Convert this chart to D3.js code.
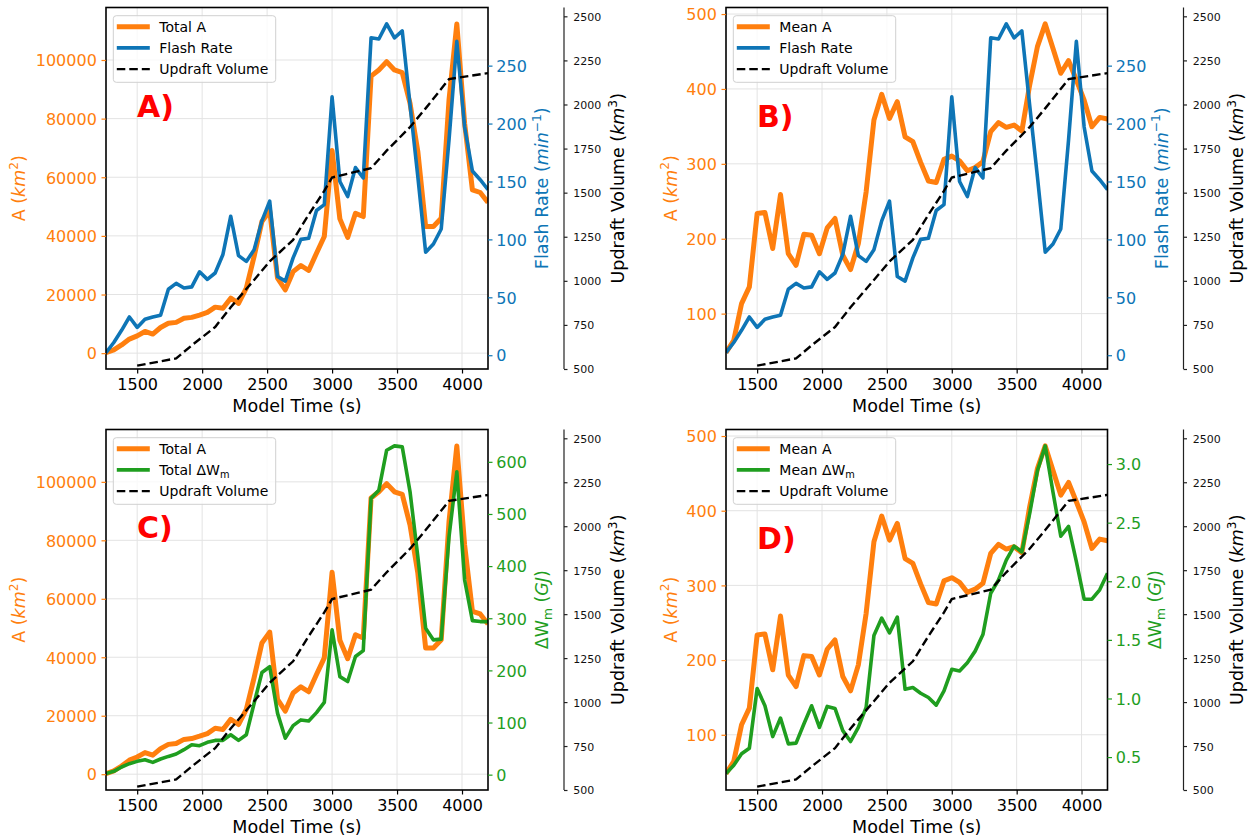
<!DOCTYPE html>
<html>
<head>
<meta charset="utf-8">
<script src="https://cdn.jsdelivr.net/npm/d3@7"></script>
<style>
  body { margin: 0; background: #fff; }
  svg text { font-family: "DejaVu Sans", sans-serif; }
</style>
</head>
<body>
<svg id="fig" width="1256" height="836"></svg>
<script>
// ---- model output (time in s) ----
const times = [1260,1320,1380,1440,1500,1560,1620,1680,1740,1800,1860,1920,1980,2040,2100,2160,2220,2280,2340,2400,
  2460,2520,2580,2640,2700,2760,2820,2880,2940,3000,3060,3120,3180,3240,3300,3360,3420,3480,3540,3600,
  3660,3720,3780,3840,3900,3960,4020,4080,4140,4200];

// total lightning-active area (km^2)
const totalA = [200,1100,2800,4800,5900,7400,6500,8750,10200,10500,11900,12200,13000,13900,15700,15300,18750,17000,22200,33000,
  44900,48600,25600,21600,27800,29900,28200,34100,39800,69100,45800,39500,47700,46600,94500,96600,99400,96600,95700,85200,
  68750,43200,43200,46000,86400,112300,78400,55700,54800,51400];

// mean lightning-active area (km^2)
const meanA = [48,64.4,113.4,135.7,233.7,235,187,259,180,164.6,206,204.7,180,214.5,227,178,158.8,193.6,262.7,358.5,
  392.8,360.7,383,336,329.5,302,277,275,306,310.3,304,290.7,295,302.8,342.9,355,348.7,351.8,343.8,405,
  456.5,486.8,454,420.9,437.8,412,385,349.5,362,359.8];

// flash rate (min^-1)
const flashRate = [2.3,11,21.5,33,24,31,33,34.5,57,62,58,59,72,65.5,71,87,120,86,81,91,
  116,133,68,64,84,100,101,125,130,223,150,137,162,153,274,273,286,274,280,216,
  154,89,96,109,186,271,197,159,151.5,143];

// total energy change (GJ)
const totalW = [2,6.4,14.7,21,25.5,28.7,23.6,30,35,39.6,47.9,57.4,55.5,62,65.7,65.7,76.6,65.7,76.6,137,
  196,207,118,70,94,105,103,119,138.5,277.7,188,178.7,226.6,238,530,545.7,622.3,630.6,628.7,542.5,
  418,281,258.5,260,456.4,581,373.4,295.5,293.6,293.6];

// mean energy change (GJ)
const meanW = [0.359,0.43,0.528,0.576,1.085,0.938,0.675,0.833,0.613,0.619,0.782,0.938,0.754,0.932,0.915,0.726,0.633,0.754,0.924,1.537,
  1.686,1.559,1.695,1.079,1.093,1.045,1.008,0.943,1.065,1.249,1.234,1.305,1.404,1.545,1.898,2.011,2.18,2.3,2.25,2.576,
  2.943,3.155,2.76,2.384,2.469,2.167,1.847,1.847,1.927,2.068];

// updraft volume (km^3)
const volTimes = [1500,1800,1920,2100,2220,2400,2520,2700,2820,2940,3000,3300,3420,3600,3720,3900,4200];
const volume   = [519,560,634,738,850,1005,1110,1232,1375,1510,1586,1639,1738,1872,1978,2144,2178];

// ---- tick labels ----
const timeTicks = [1500,2000,2500,3000,3500,4000];
const totalATicks = [0,20000,40000,60000,80000,100000];
const meanATicks = [100,200,300,400,500];
const flashTicks = [0,50,100,150,200,250];
const totalWTicks = [0,100,200,300,400,500,600];
const meanWTicks = [0.5,1.0,1.5,2.0,2.5,3.0];
const volTicks = [500,750,1000,1250,1500,1750,2000,2250,2500];
const volLimits = [500,2550];
const timeLimits = [1260,4200];

const ORANGE = '#ff7f0e', BLUE = '#0e75b6', GREEN = '#1f9e1f';

const aLabel = [{t:'A ('},{t:'km',it:1},{t:'2',sup:1},{t:')'}];
const flashLabel = [{t:'Flash Rate ('},{t:'min',it:1},{t:'\u22121',sup:1},{t:')'}];
const wLabel = [{t:'\u0394W'},{t:'m',sub:1},{t:' ('},{t:'GJ',it:1},{t:')'}];
const volLabel = [{t:'Updraft Volume ('},{t:'km',it:1},{t:'3',sup:1},{t:')'}];

const panels = [
  {tag:'A)', x0:106, x1:488, y0:7.5, y1:369, left:totalA, leftTicks:totalATicks, leftFmt:d3.format('d'),
   leftName:[{t:'Total A'}], right:flashRate, rightTicks:flashTicks, rightFmt:d3.format('d'), rColor:BLUE,
   rightName:[{t:'Flash Rate'}], rLabel:flashLabel, lOff:87, rOff:53.8, tagDy:109},
  {tag:'B)', x0:726, x1:1107.5, y0:7.5, y1:369, left:meanA, leftTicks:meanATicks, leftFmt:d3.format('d'),
   leftName:[{t:'Mean A'}], right:flashRate, rightTicks:flashTicks, rightFmt:d3.format('d'), rColor:BLUE,
   rightName:[{t:'Flash Rate'}], rLabel:flashLabel, lOff:55.3, rOff:54.2, tagDy:119},
  {tag:'C)', x0:106, x1:488, y0:429.5, y1:790, left:totalA, leftTicks:totalATicks, leftFmt:d3.format('d'),
   leftName:[{t:'Total A'}], right:totalW, rightTicks:totalWTicks, rightFmt:d3.format('d'), rColor:GREEN,
   rightName:[{t:'Total \u0394W'},{t:'m',sub:1}], rLabel:wLabel, lOff:87, rOff:53.8, tagDy:108},
  {tag:'D)', x0:726, x1:1107.5, y0:429.5, y1:790, left:meanA, leftTicks:meanATicks, leftFmt:d3.format('d'),
   leftName:[{t:'Mean A'}], right:meanW, rightTicks:meanWTicks, rightFmt:d3.format('.1f'), rColor:GREEN,
   rightName:[{t:'Mean \u0394W'},{t:'m',sub:1}], rLabel:wLabel, lOff:55.3, rOff:47.5, tagDy:119}
];

function padded(vals) {
  const [lo, hi] = d3.extent(vals);
  const p = (hi - lo) * 0.05;
  return [lo - p, hi + p];
}

// text with italic / super / subscript runs
function rich(textSel, parts, size) {
  let shift = 0;
  parts.forEach(p => {
    const ts = textSel.append('tspan').text(p.t);
    if (p.it) ts.attr('font-style', 'italic');
    let target = 0;
    if (p.sup) { ts.attr('font-size', size * 0.7); target = -size * 0.42; }
    if (p.sub) { ts.attr('font-size', size * 0.7); target = size * 0.22; }
    if (target !== shift) { ts.attr('dy', target - shift); shift = target; }
  });
  return textSel;
}

function styleAxis(ax, color, size, textColor) {
  ax.attr('font-family', null).attr('font-size', null);
  ax.select('.domain').remove();
  ax.selectAll('.tick line').attr('stroke', color).attr('stroke-width', 1.2);
  ax.selectAll('.tick text').attr('fill', textColor || color).attr('font-size', size);
}

const fig = d3.select('#fig');

panels.forEach((P, k) => {
  const g = fig.append('g');
  const x = d3.scaleLinear().domain(timeLimits).range([P.x0, P.x1]);
  const yL = d3.scaleLinear().domain(padded(P.left)).range([P.y1, P.y0]);
  const yR = d3.scaleLinear().domain(padded(P.right)).range([P.y1, P.y0]);
  const yV = d3.scaleLinear().domain(volLimits).range([P.y1, P.y0]);

  // grid
  g.append('g').selectAll('line').data(timeTicks).join('line')
    .attr('x1', d => x(d)).attr('x2', d => x(d)).attr('y1', P.y0).attr('y2', P.y1)
    .attr('stroke', '#e3e3e3').attr('stroke-width', 1);
  g.append('g').selectAll('line').data(P.leftTicks).join('line')
    .attr('y1', d => yL(d)).attr('y2', d => yL(d)).attr('x1', P.x0).attr('x2', P.x1)
    .attr('stroke', '#e3e3e3').attr('stroke-width', 1);

  // clipping to plot area
  const cid = 'clip' + k;
  g.append('clipPath').attr('id', cid).append('rect')
    .attr('x', P.x0).attr('y', P.y0).attr('width', P.x1 - P.x0).attr('height', P.y1 - P.y0);
  const plot = g.append('g').attr('clip-path', `url(#${cid})`);

  const lineL = d3.line().x((d, i) => x(times[i])).y(d => yL(d));
  const lineR = d3.line().x((d, i) => x(times[i])).y(d => yR(d));
  const lineV = d3.line().x((d, i) => x(volTimes[i])).y(d => yV(d));

  plot.append('path').datum(P.left).attr('d', lineL)
    .attr('fill', 'none').attr('stroke', ORANGE).attr('stroke-width', 5).attr('stroke-linejoin', 'round');
  plot.append('path').datum(P.right).attr('d', lineR)
    .attr('fill', 'none').attr('stroke', P.rColor).attr('stroke-width', 3.6).attr('stroke-linejoin', 'round');
  plot.append('path').datum(volume).attr('d', lineV)
    .attr('fill', 'none').attr('stroke', '#000').attr('stroke-width', 2.4).attr('stroke-dasharray', '8.5,4');

  // frame
  g.append('rect').attr('x', P.x0).attr('y', P.y0).attr('width', P.x1 - P.x0).attr('height', P.y1 - P.y0)
    .attr('fill', 'none').attr('stroke', '#000').attr('stroke-width', 1.6);

  // bottom axis
  const axB = g.append('g').attr('transform', `translate(0,${P.y1})`)
    .call(d3.axisBottom(x).tickValues(timeTicks).tickSize(4.5).tickPadding(5.5).tickFormat(d3.format('d')));
  styleAxis(axB, '#000', 16);
  g.append('text').attr('x', (P.x0 + P.x1) / 2).attr('y', P.y1 + 42.5)
    .attr('text-anchor', 'middle').attr('font-size', 17.5).text('Model Time (s)');

  // left axis
  const axL = g.append('g').attr('transform', `translate(${P.x0},0)`)
    .call(d3.axisLeft(yL).tickValues(P.leftTicks).tickSize(4.5).tickPadding(4.7).tickFormat(P.leftFmt));
  styleAxis(axL, ORANGE, 16);
  axL.selectAll('.tick text').attr('dy', '0.36em');
  rich(g.append('text').attr('transform', `translate(${P.x0 - P.lOff},${(P.y0 + P.y1) / 2}) rotate(-90)`)
    .attr('text-anchor', 'middle').attr('dy', '0.35em').attr('font-size', 17.5).attr('fill', ORANGE), aLabel, 17.5);

  // first right axis
  const axR = g.append('g').attr('transform', `translate(${P.x1},0)`)
    .call(d3.axisRight(yR).tickValues(P.rightTicks).tickSize(4.5).tickPadding(3.8).tickFormat(P.rightFmt));
  styleAxis(axR, P.rColor, 16);
  axR.selectAll('.tick text').attr('dy', '0.36em');
  rich(g.append('text').attr('transform', `translate(${P.x1 + P.rOff},${(P.y0 + P.y1) / 2}) rotate(-90)`)
    .attr('text-anchor', 'middle').attr('dy', '0.35em').attr('font-size', 17.5).attr('fill', P.rColor), P.rLabel, 17.5);

  // offset volume axis
  const vx = P.x1 + 76;
  g.append('line').attr('x1', vx).attr('x2', vx).attr('y1', P.y0).attr('y2', P.y1)
    .attr('stroke', '#222').attr('stroke-width', 1.2);
  const axV = g.append('g').attr('transform', `translate(${vx},0)`)
    .call(d3.axisRight(yV).tickValues(volTicks).tickSize(3.5).tickPadding(5.8).tickFormat(d3.format('d')));
  styleAxis(axV, '#222', 11, '#111');
  axV.selectAll('.tick text').attr('dy', '0.36em');
  rich(g.append('text').attr('transform', `translate(${vx + 53.8},${(P.y0 + P.y1) / 2}) rotate(-90)`)
    .attr('text-anchor', 'middle').attr('dy', '0.35em').attr('font-size', 17.5).attr('fill', '#000'), volLabel, 17.5);

  // legend
  const lx = P.x0 + 7.3, ly = P.y0 + 8.2;
  const leg = g.append('g');
  leg.append('rect').attr('x', lx).attr('y', ly).attr('width', 162.4).attr('height', 66.6).attr('rx', 3)
    .attr('fill', '#fff').attr('fill-opacity', 0.8).attr('stroke', '#d0d0d0').attr('stroke-width', 1);
  const entries = [
    {name: P.leftName, color: ORANGE, w: 5, dash: null},
    {name: P.rightName, color: P.rColor, w: 3.6, dash: null},
    {name: [{t:'Updraft Volume'}], color: '#000', w: 2.4, dash: '8.5,4'}
  ];
  entries.forEach((e, i) => {
    const ry = ly + 11 + i * 21.2;
    const ln = leg.append('line').attr('x1', lx + 3.5).attr('x2', lx + 36.5).attr('y1', ry).attr('y2', ry)
      .attr('stroke', e.color).attr('stroke-width', e.w);
    if (e.dash) ln.attr('stroke-dasharray', e.dash);
    rich(leg.append('text').attr('x', lx + 46).attr('y', ry).attr('dy', '0.36em')
      .attr('font-size', 14).attr('fill', '#000'), e.name, 14);
  });

  // panel tag
  g.append('text').attr('x', P.x0 + 31).attr('y', P.y0 + P.tagDy)
    .attr('font-size', 30).attr('font-weight', 'bold').attr('fill', '#f00').text(P.tag);
});
</script>
</body>
</html>
